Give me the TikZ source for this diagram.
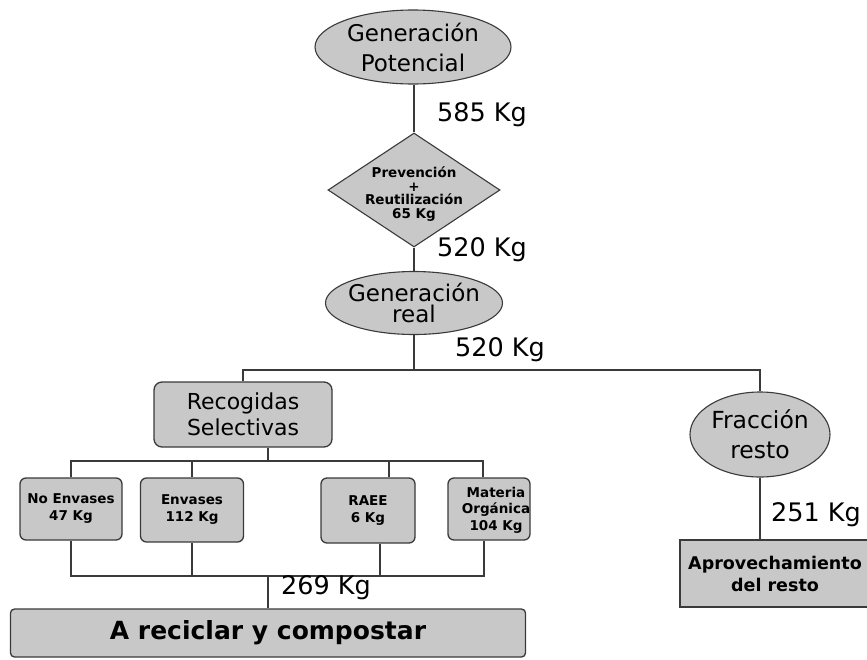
\documentclass[tikz,border=0pt]{standalone}
\usepackage{fontspec}
\setmainfont{DejaVu Sans}
\usetikzlibrary{shapes.geometric}
\definecolor{boxfill}{HTML}{C8C8C8}
\definecolor{edge}{HTML}{3A3A3A}
\newcommand{\fs}[2]{\fontsize{#1}{#2}\selectfont}
\tikzset{
  link/.style={draw=edge, line width=1.2pt},
  ell/.style={ellipse, draw=edge, fill=boxfill, line width=1.1pt, inner sep=0pt},
  etext/.style={align=center, inner sep=0pt, text=black},
  dia/.style={diamond, draw=edge, fill=boxfill, line width=1.1pt, inner sep=0pt},
  rbox/.style={rectangle, rounded corners=6pt, draw=edge, fill=boxfill, line width=1.3pt, inner sep=0pt, align=center},
  sbox/.style={rectangle, draw=edge, fill=boxfill, line width=1.3pt, inner sep=0pt, align=center},
  kg/.style={inner sep=0pt, font=\fs{25.5}{28}},
  small/.style={font=\fs{13.5}{17}\bfseries},
}
\begin{document}
\begin{tikzpicture}[x=1pt, y=-1pt]
\useasboundingbox (0,0) rectangle (867,659);

% ---- top chain ----
\node[ell, minimum width=196pt, minimum height=74pt,
      label={[etext, font=\fs{23}{30}]center:{Generación\\Potencial}}] (gp) at (413,47) {};
\node[dia, minimum width=172pt, minimum height=114pt] (prev) at (414,190) {};
\node[etext, font=\fs{13.5}{13.4}\bfseries] (prevtxt) at (414,194) {Prevención\\+\\Reutilización\\65 Kg};
\node[ell, minimum width=177pt, minimum height=63pt,
      label={[etext, font=\fs{23}{21.5}]center:{Generación\\real}}] (gr) at (414,303) {};

\node[kg] (k585) at (482,115) {585 Kg};
\node[kg] (k520a) at (482,250) {520 Kg};
\node[kg] (k520b) at (500,350) {520 Kg};

\draw[link] (gp.south -| prev.north) -- (prev.north);
\draw[link] (prev.south) -- (gr.north);

% ---- split into selective collection and rest ----
\coordinate (j1) at (414,370);
\node[rbox, rounded corners=8pt, minimum width=178pt, minimum height=65pt,
      font=\fs{22}{26}] (rs) at (243,414.5) {Recogidas\\Selectivas};
\node[ell, minimum width=140pt, minimum height=85pt,
      label={[etext, font=\fs{23.5}{30}]center:{Fracción\\resto}}] (fr) at (760,434.5) {};

\draw[link] (gr.south) -- (j1);
\draw[link] (rs.north) |- (j1) -| (fr.north);

% ---- selective fractions ----
\node[rbox, small, minimum width=102pt, minimum height=62pt] (ne) at (71,509) {No Envases\\47 Kg};
\node[rbox, small, minimum width=103pt, minimum height=64pt] (en) at (192,510) {Envases\\112 Kg};
\node[rbox, small, minimum width=94pt, minimum height=65pt] (raee) at (368,510.5) {RAEE\\6 Kg};
\node[rbox, minimum width=82pt, minimum height=62pt] (mo) at (489,509) {};
\node[etext, font=\fs{13.5}{16.5}\bfseries] (motxt) at (496,510) {Materia\\Orgánica\\104 Kg};

\coordinate (j2) at (268,461);
\coordinate (tr) at (389,461);
\coordinate (tm) at (483,461);
\draw[link] (rs.south -| j2) -- (j2);
\draw[link] (ne.north) |- (tm) -- (mo.north -| tm);
\draw[link] (en.north) -- (en.north |- j2);
\draw[link] (tr) -- (raee.north -| tr);

% ---- gathering to recycling ----
\coordinate (j3) at (268,576);
\coordinate (br) at (380,576);
\coordinate (bm) at (484,576);
\node[rbox, rounded corners=4pt, minimum width=515pt, minimum height=48pt,
      font=\fs{25}{28}\bfseries] (recy) at (268,633) {A reciclar y compostar};
\draw[link] (ne.south) |- (bm) -- (mo.south -| bm);
\draw[link] (en.south) -- (en.south |- j3);
\draw[link] (raee.south -| br) -- (br);
\draw[link] (j3) -- (recy.north);
\node[kg] (k269) at (326,588) {269 Kg};

% ---- rest fraction ----
\node[sbox, minimum width=190pt, minimum height=67pt] (apr) at (775,573.5) {};
\node[etext, font=\fs{17.5}{22}\bfseries] (aprtxt) at (775,574) {Aprovechamiento\\del resto};
\draw[link] (fr.south) -- (fr.south |- apr.north);
\node[kg] (k251) at (816,515) {251 Kg};
\end{tikzpicture}
\end{document}
